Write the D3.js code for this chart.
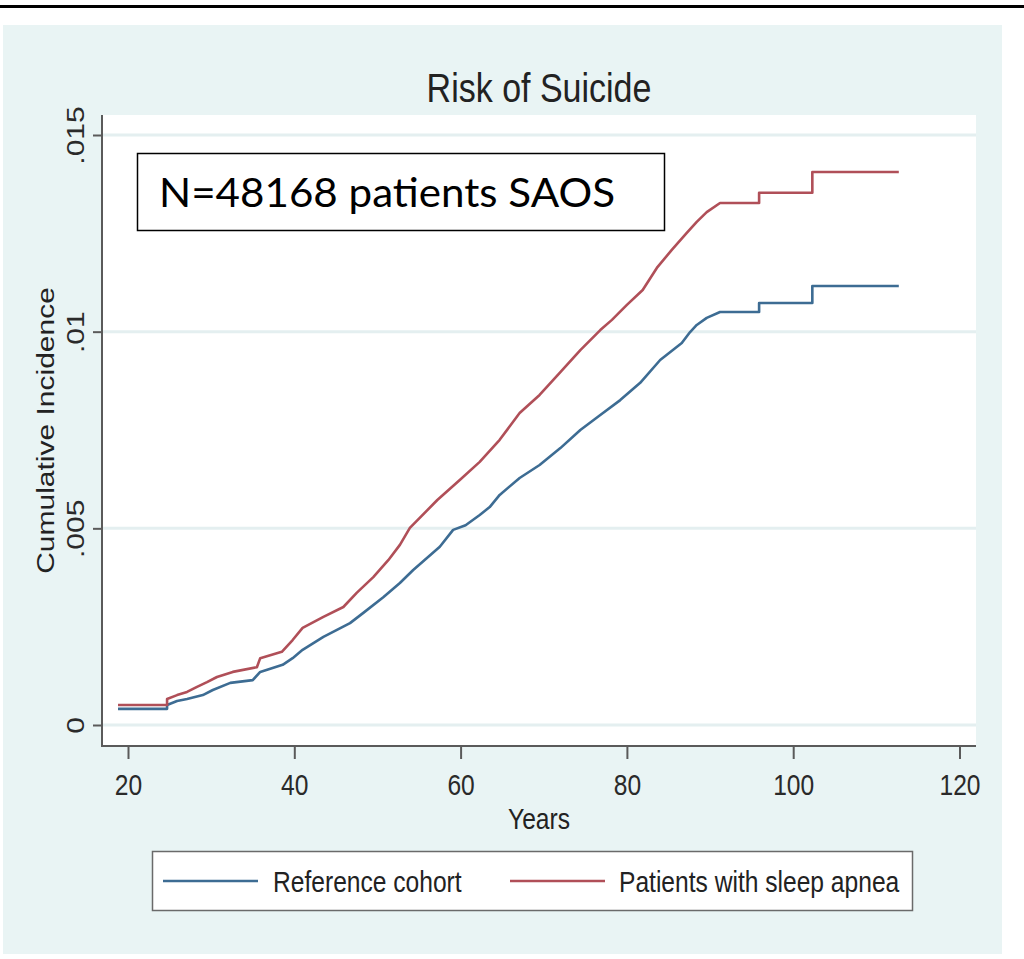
<!DOCTYPE html>
<html>
<head>
<meta charset="utf-8">
<script src="https://cdn.jsdelivr.net/npm/d3@7"></script>
<style>
  html, body { margin: 0; padding: 0; background: #ffffff; }
  svg { display: block; }
</style>
</head>
<body>
<svg id="chart" width="1024" height="959"></svg>
<script>
// Cumulative incidence of suicide by age (Kaplan–Meier style curves)
const xTicks = [20, 40, 60, 80, 100, 120];
const yTicks = [0, 0.005, 0.01, 0.015];
const yTickLabels = ["0", ".005", ".01", ".015"];
const seriesNames = ["Reference cohort", "Patients with sleep apnea"];
const seriesColors = ["#3d6c93", "#b04f58"];

const ageRef = [18.8, 24.7, 24.7, 25.9, 27.1, 29.0, 30.2, 32.3, 35.0, 35.9, 38.6, 39.8, 41.0, 43.5, 46.7,
  48.3, 50.7, 52.7, 54.3, 57.5, 59.1, 60.6, 62.3, 63.5, 64.7, 67.1, 69.5, 72.0, 74.4, 76.8,
  79.2, 81.6, 84.0, 86.6, 87.6, 88.4, 89.6, 91.2, 95.9, 95.9, 102.3, 102.3, 112.7];
const cumRef = [.00041, .00041, .00051, .00061, .00066, .00076, .00089, .00107, .00114, .00135, .00153, .00170, .00191, .00224, .00259,
  .00285, .00325, .00361, .00394, .00453, .00496, .00508, .00534, .00554, .00585, .00628, .00661, .00704, .00750, .00788,
  .00826, .00870, .00928, .00971, .00999, .01017, .01035, .01050, .01050, .01073, .01073, .01116, .01116];

const ageApnea = [18.8, 24.7, 24.7, 25.9, 27.1, 28.3, 29.5, 30.7, 32.6, 35.5, 35.9, 38.5, 39.8, 41.0, 43.5,
  45.9, 47.5, 49.5, 51.3, 52.7, 53.9, 57.2, 59.9, 62.3, 64.7, 67.1, 69.5, 72.0, 74.4, 76.8,
  78.2, 80.0, 81.9, 83.6, 85.4, 87.2, 88.4, 89.6, 91.2, 95.9, 95.9, 102.3, 102.3, 112.7];
const cumApnea = [.00051, .00051, .00066, .00076, .00084, .00097, .00109, .00122, .00135, .00147, .00170, .00186, .00216, .00247, .00275,
  .00300, .00336, .00376, .00419, .00458, .00501, .00572, .00623, .00669, .00725, .00793, .00839, .00897, .00953, .01004,
  .01030, .01068, .01106, .01162, .01208, .01251, .01279, .01304, .01327, .01327, .01353, .01353, .01406, .01406];

const svg = d3.select("#chart");
const FONT = "'Liberation Sans', Arial, sans-serif";
const SX = 0.82; // narrow rendering of the Stata-style text

// page decorations
svg.append("rect").attr("x", 0).attr("y", 5).attr("width", 1024).attr("height", 3).attr("fill", "#000");
svg.append("rect").attr("x", 3).attr("y", 25).attr("width", 999).attr("height", 929).attr("fill", "#e9f4f4");

// plot region
const plot = { left: 102, right: 976, top: 115, bottom: 746 };
svg.append("rect").attr("x", plot.left).attr("y", plot.top)
  .attr("width", plot.right - plot.left).attr("height", plot.bottom - plot.top).attr("fill", "#fff");

const x = d3.scaleLinear().domain([20, 120]).range([128, 959.5]);
const y = d3.scaleLinear().domain([0, 0.015]).range([725, 135]);

// horizontal gridlines
svg.append("g").selectAll("line").data(yTicks).join("line")
  .attr("x1", plot.left).attr("x2", plot.right)
  .attr("y1", d => y(d)).attr("y2", d => y(d))
  .attr("stroke", "#e4eff0").attr("stroke-width", 3);

// y axis
const gy = svg.append("g").attr("transform", `translate(${plot.left},0)`)
  .call(d3.axisLeft(y).tickValues(yTicks).tickSize(9).tickFormat((d, i) => yTickLabels[i]));
gy.select(".domain").remove();
gy.selectAll(".tick line").attr("stroke", "#5a5a5a").attr("stroke-width", 2);
gy.selectAll(".tick text")
  .attr("x", null).attr("dy", null).attr("y", null)
  .attr("text-anchor", "middle")
  .attr("transform", `translate(-18,0) rotate(-90) scale(1,${SX})`)
  .attr("font-family", FONT).attr("font-size", 30).attr("fill", "#2a2a2a");

// x axis
const gx = svg.append("g").attr("transform", `translate(0,${plot.bottom})`)
  .call(d3.axisBottom(x).tickValues(xTicks).tickSize(13).tickFormat(d3.format("d")));
gx.select(".domain").remove();
gx.selectAll(".tick line").attr("stroke", "#5a5a5a").attr("stroke-width", 2);
gx.selectAll(".tick text")
  .attr("y", null).attr("dy", null)
  .attr("transform", `translate(0,49) scale(${SX},1)`)
  .attr("font-family", FONT).attr("font-size", 30).attr("fill", "#2a2a2a");

// axis lines
svg.append("line").attr("x1", plot.left).attr("x2", plot.left).attr("y1", plot.top).attr("y2", plot.bottom + 1)
  .attr("stroke", "#5a5a5a").attr("stroke-width", 2);
svg.append("line").attr("x1", plot.left - 1).attr("x2", plot.right).attr("y1", plot.bottom).attr("y2", plot.bottom)
  .attr("stroke", "#5a5a5a").attr("stroke-width", 2);

// axis titles and chart title
function label(txt, tx, ty, size, opts = {}) {
  const g = svg.append("g").attr("transform", `translate(${tx},${ty})${opts.rotate ? " rotate(-90)" : ""}`);
  g.append("text").text(txt)
    .attr("transform", opts.rotate ? `scale(1,${opts.sx || SX})` : `scale(${opts.sx || SX},1)`)
    .attr("text-anchor", opts.anchor || "middle")
    .attr("font-family", opts.font || FONT).attr("font-size", size)
    .attr("fill", opts.fill || "#222");
  return g;
}
label("Risk of Suicide", (plot.left + plot.right) / 2, 102, 40, { sx: 0.85 });
label("Years", (plot.left + plot.right) / 2, 829, 30);
label("Cumulative Incidence", 54, (plot.top + plot.bottom) / 2, 30, { rotate: true });

// curves
const series = [
  { name: seriesNames[0], color: seriesColors[0], pts: ageRef.map((a, i) => [a, cumRef[i]]) },
  { name: seriesNames[1], color: seriesColors[1], pts: ageApnea.map((a, i) => [a, cumApnea[i]]) }
];
const line = d3.line().x(d => x(d[0])).y(d => y(d[1])).curve(d3.curveLinear);
svg.append("g").selectAll("path").data(series).join("path")
  .attr("d", d => line(d.pts))
  .attr("fill", "none").attr("stroke", d => d.color)
  .attr("stroke-width", 2.6).attr("stroke-linejoin", "round");

// annotation box
svg.append("rect").attr("x", 137.5).attr("y", 153.5).attr("width", 527).attr("height", 77)
  .attr("fill", "#fff").attr("stroke", "#000").attr("stroke-width", 1.5);
svg.append("text").text("N=48168 patients SAOS")
  .attr("x", 159).attr("y", 207)
  .attr("textLength", 456).attr("lengthAdjust", "spacingAndGlyphs")
  .attr("font-family", "Lato, 'Open Sans', sans-serif").attr("font-size", 40).attr("fill", "#000");

// legend
svg.append("rect").attr("x", 152.5).attr("y", 851.5).attr("width", 760).attr("height", 59)
  .attr("fill", "#fff").attr("stroke", "#6a6a6a").attr("stroke-width", 1.5);
const legendPos = [{ x1: 163, x2: 258, tx: 273 }, { x1: 510, x2: 605, tx: 619 }];
series.forEach((s, i) => {
  const p = legendPos[i];
  svg.append("line").attr("x1", p.x1).attr("x2", p.x2).attr("y1", 881).attr("y2", 881)
    .attr("stroke", s.color).attr("stroke-width", 2.6);
  label(s.name, p.tx, 892, 30, { anchor: "start" });
});
</script>
</body>
</html>
